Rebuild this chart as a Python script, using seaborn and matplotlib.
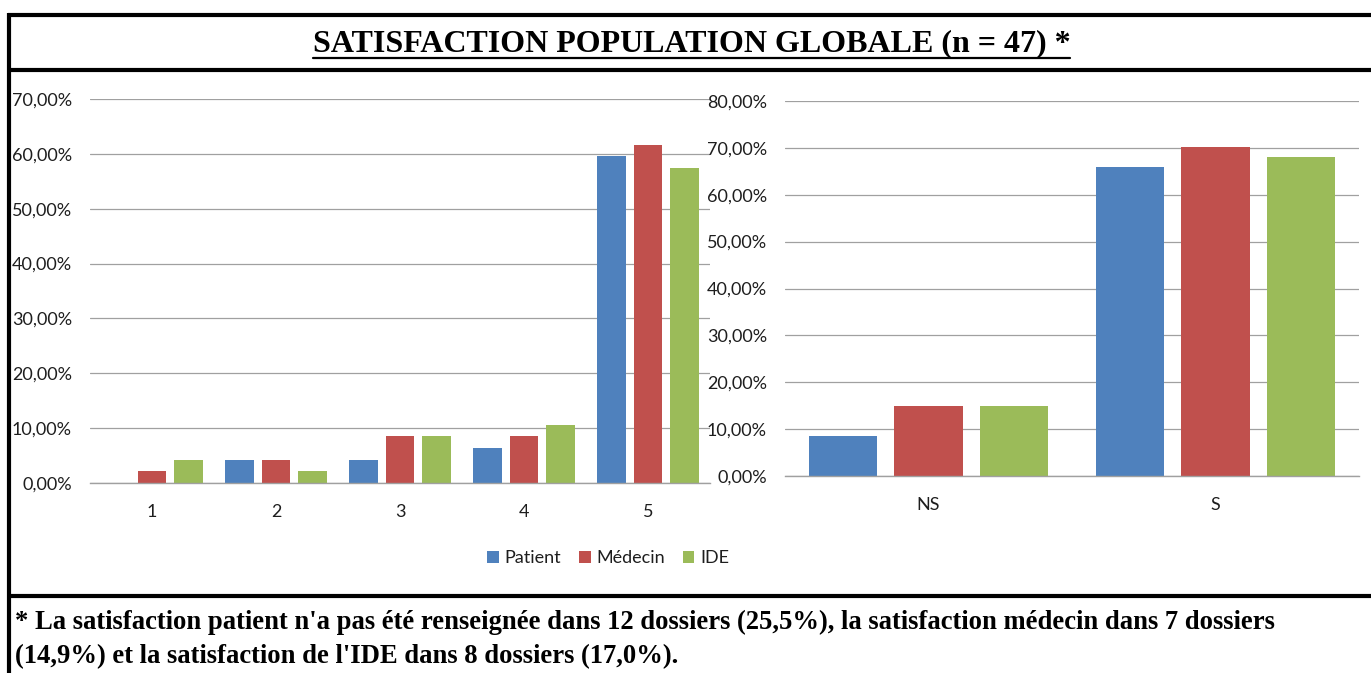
import matplotlib
matplotlib.use("Agg")
import matplotlib.pyplot as plt
from matplotlib.lines import Line2D
from matplotlib.patches import Patch
from matplotlib.ticker import FuncFormatter, MultipleLocator
import pandas as pd
import seaborn as sns

# Satisfaction scores (1 to 5), share of the 47 records
score_labels = ["1", "2", "3", "4", "5"]
patient_scores = [0.0, 4.26, 4.26, 6.38, 59.57]
medecin_scores = [2.13, 4.26, 8.51, 8.51, 61.70]
ide_scores = [4.26, 2.13, 8.51, 10.64, 57.45]

# Not satisfied (NS) / satisfied (S)
group_labels = ["NS", "S"]
patient_groups = [8.51, 65.96]
medecin_groups = [14.89, 70.21]
ide_groups = [14.89, 68.09]

series_names = ["Patient", "Médecin", "IDE"]
series_colors = ["#4F81BD", "#C0504D", "#9BBB59"]

title_text = "SATISFACTION POPULATION GLOBALE (n = 47) *"
note_lines = [
    "* La satisfaction patient n'a pas été renseignée dans 12 dossiers (25,5%), la satisfaction médecin dans 7 dossiers",
    "(14,9%) et la satisfaction de l'IDE dans 8 dossiers (17,0%).",
]


def long_table(cats, *series):
    rows = []
    for name, vals in zip(series_names, series):
        for c, v in zip(cats, vals):
            rows.append({"cat": c, "serie": name, "val": v})
    return pd.DataFrame(rows)


sns.set_theme(style="white")
label_font = ["Lato", "DejaVu Sans"]
serif_font = ["Liberation Serif", "DejaVu Serif"]
plt.rcParams["font.family"] = label_font

W, H = 1371, 673
fig = plt.figure(figsize=(W / 100, H / 100), dpi=100)


def fx(px):
    return px / W


def fy(py):
    return 1 - py / H


palette = dict(zip(series_names, series_colors))
pct_fmt = FuncFormatter(lambda v, _: f"{v:.2f}".replace(".", ",") + "%")
grid_color = "#A0A0A0"
text_color = "#1E1E1E"
label_size = 13


def style_axes(ax, top, step):
    ax.set_ylim(0, top)
    ax.yaxis.set_major_locator(MultipleLocator(step))
    ax.yaxis.set_major_formatter(pct_fmt)
    ax.grid(axis="y", color=grid_color, linewidth=0.9)
    ax.set_axisbelow(True)
    for s in ["left", "right", "top"]:
        ax.spines[s].set_visible(False)
    ax.spines["bottom"].set_color(grid_color)
    ax.spines["bottom"].set_linewidth(1.0)
    ax.tick_params(axis="y", length=0, pad=13, labelsize=label_size, colors=text_color)
    ax.tick_params(axis="x", length=0, pad=15, labelsize=label_size, colors=text_color)
    ax.set_xlabel("")
    ax.set_ylabel("")
    if ax.get_legend() is not None:
        ax.get_legend().remove()


ax1 = fig.add_axes([fx(90), fy(483), fx(710) - fx(90), fy(99) - fy(483)])
sns.barplot(data=long_table(score_labels, patient_scores, medecin_scores, ide_scores),
            x="cat", y="val", hue="serie", palette=palette, width=0.88, gap=0.22,
            saturation=1, linewidth=0, ax=ax1)
style_axes(ax1, 70, 10)
ax1.set_xlim(-0.5, 4.5)

ax2 = fig.add_axes([fx(785), fy(476), fx(1359) - fx(785), fy(101) - fy(476)])
sns.barplot(data=long_table(group_labels, patient_groups, medecin_groups, ide_groups),
            x="cat", y="val", hue="serie", palette=palette, width=0.89, gap=0.2,
            saturation=1, linewidth=0, ax=ax2)
style_axes(ax2, 80, 10)
ax2.set_xlim(-0.5, 1.5)

handles = [Patch(facecolor=c, edgecolor="none") for c in series_colors]
fig.legend(handles, series_names, loc="center", bbox_to_anchor=(fx(608), fy(558)),
           ncol=3, frameon=False, fontsize=label_size, handlelength=0.65, handleheight=0.65,
           handletextpad=0.3, columnspacing=1.0, labelcolor=text_color)

# frame lines
for (x0, y0, x1, y1) in [(8, 14.5, W, 14.5), (8, 69.5, W, 69.5), (8, 596, W, 596), (9, 13, 9, H)]:
    fig.add_artist(Line2D([fx(x0), fx(x1)], [fy(y0), fy(y1)], color="black", linewidth=3.0,
                          solid_capstyle="butt", transform=fig.transFigure))

title = fig.text(fx(691.5), fy(44), title_text, ha="center", va="center", color="black",
                 fontsize=23, fontweight="bold", family=serif_font)
fig.canvas.draw()
bb = title.get_window_extent()
uy = bb.y0 + 1
fig.add_artist(Line2D([bb.x0 / W, bb.x1 / W], [uy / H, uy / H], color="black", linewidth=1.6,
                      transform=fig.transFigure))

for i, line in enumerate(note_lines):
    fig.text(fx(15), fy(622 + 35 * i), line, ha="left", va="center", color="black",
             fontsize=19.2, fontweight="bold", family=serif_font)

fig.savefig("out.png", dpi=100)
